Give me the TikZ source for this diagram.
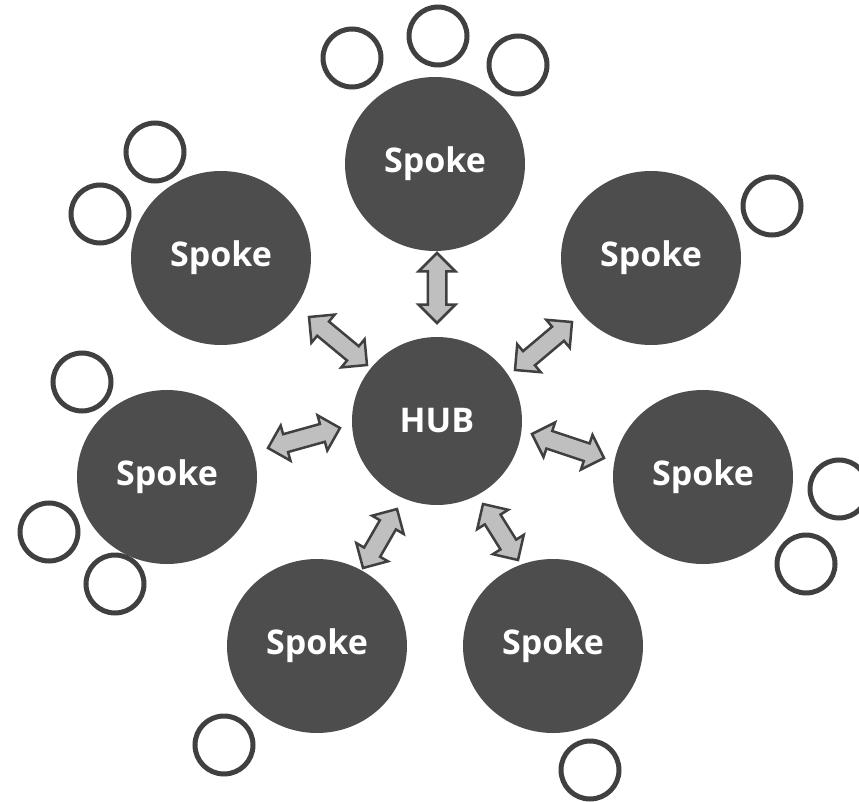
\documentclass[tikz,border=0pt]{standalone}
\usepackage{fontspec}
\setmainfont{Open Sans}
\usetikzlibrary{shapes, arrows, positioning, calc}

\definecolor{spokegray}{HTML}{4D4D4D}
\definecolor{ringgray}{HTML}{404040}
\definecolor{arrowgray}{HTML}{BFBFBF}

% two-headed block arrow between a tip near node #1 and a tip near node #3
\newcommand{\hubarrow}[4]{%
  \path let \p1 = ($(#1)+#2$), \p2 = ($(#3)+#4$),
            \n1 = {veclen(\x2-\x1,\y2-\y1)} in
    (\p1) -- (\p2) node[midway, sloped, link, minimum height=\n1] {};}

\begin{document}
\begin{tikzpicture}[x=1pt, y=-1pt,
  spoke/.style={ellipse, fill=spokegray, text=white,
    font=\fontsize{34}{40}\selectfont\bfseries,
    minimum width=180pt, minimum height=174pt, inner sep=0pt},
  hub/.style={spoke, minimum width=170pt, minimum height=168pt},
  ring/.style={circle, draw=ringgray, line width=5pt, minimum size=58pt, inner sep=0pt},
  link/.style={double arrow, double arrow head extend=9pt,
    inner xsep=0pt, inner ysep=8pt, fill=arrowgray, draw=ringgray, line width=2.5pt}]
\useasboundingbox (0,0) rectangle (859,802);

\node[hub] (hub) at (437,421) {HUB};

\node[spoke] (top)   at (435,164) {Spoke};
\node[spoke] (upl)   at (221,258) {Spoke};
\node[spoke] (upr)   at (651,258) {Spoke};
\node[spoke] (left)  at (167,477) {Spoke};
\node[spoke] (right) at (703,477) {Spoke};
\node[spoke] (lowl)  at (317,646) {Spoke};
\node[spoke] (lowr)  at (553,646) {Spoke};

% small rings around the spokes
\foreach \x/\y [count=\i] in {352/58, 438/36, 518/65, 155/152, 100/214, 772/206,
    82/382, 49/532, 115/584, 839/489, 806/564, 224/745, 590/770}
  \node[ring] (ring\i) at (\x,\y) {};

% arrows hub <-> spokes
\hubarrow{hub}{(0,-98)}{top}{(2,89)}
\hubarrow{hub}{(-70,-56)}{upl}{(88,59)}
\hubarrow{hub}{(78,-51)}{upr}{(-79,64)}
\hubarrow{hub}{(-97,7)}{left}{(101,-29)}
\hubarrow{hub}{(95,13)}{right}{(-99,-19)}
\hubarrow{hub}{(-40,88)}{lowl}{(46,-78)}
\hubarrow{hub}{(46,83)}{lowr}{(-35,-86)}

\end{tikzpicture}
\end{document}
